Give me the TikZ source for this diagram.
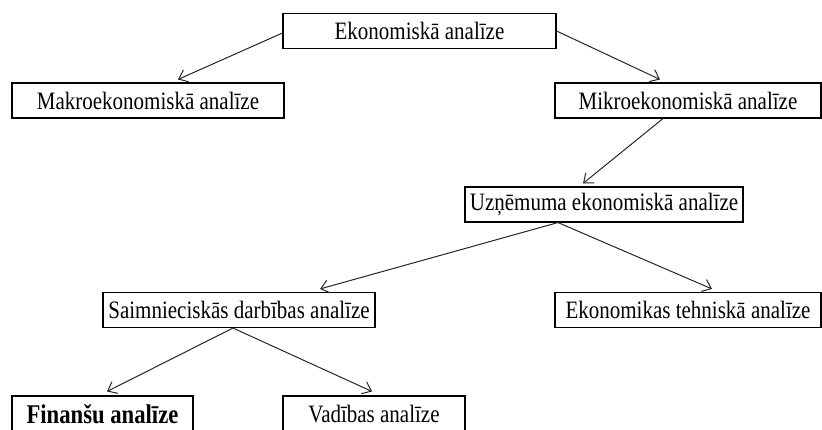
\documentclass[tikz,border=0pt]{standalone}
\usepackage{fontspec}
\setmainfont{Liberation Serif}[FakeStretch=0.84]
\usepackage{tikz}
\usetikzlibrary{arrows.meta}

\begin{document}
\begin{tikzpicture}[x=1pt, y=-1pt,
    box/.style={draw, rectangle, line width=1.1pt, minimum height=35pt, inner sep=0pt,
      font=\fontsize{25}{30}\selectfont},
    link/.style={->, line width=1pt, draw=black!85},
    >={Straight Barb[length=8pt, width=13pt]}]
  \path[use as bounding box, clip] (0,0) rectangle (822,429);

  \node[box, minimum width=273pt] (eko) at (419.5,31) {Ekonomiskā analīze};
  \node[box, minimum width=272pt] (makro) at (148,100.5) {Makroekonomiskā analīze};
  \node[box, minimum width=266pt] (mikro) at (688,100.5) {Mikroekonomiskā analīze};
  \node[box, minimum width=278pt] (uzn) at (604,204.5) {Uzņēmuma ekonomiskā analīze};
  \node[box, minimum width=272pt] (saimn) at (239,310) {Saimnieciskās darbības analīze};
  \node[box, minimum width=266pt] (tehn) at (688,310) {Ekonomikas tehniskā analīze};
  \node[box, minimum width=181pt, minimum height=36pt,
    font=\fontsize{27}{32}\selectfont\bfseries] (fin) at (102.5,414) {Finanšu analīze};
  \node[box, minimum width=182pt, minimum height=36pt] (vad) at (374,414) {Vadības analīze};

  \draw[link] ([yshift=-2pt]eko.west) -- ([xshift=30pt, yshift=3pt]makro.north);
  \draw[link] (eko.east) -- ([xshift=-28pt, yshift=3pt]mikro.north);
  \draw[link] ([xshift=-25pt]mikro.south) -- ([xshift=-21pt, yshift=3pt]uzn.north);
  \draw[link] ([xshift=-46pt]uzn.south) -- ([xshift=81pt, yshift=3pt]saimn.north);
  \draw[link] ([xshift=-46pt]uzn.south) -- ([xshift=24pt, yshift=3pt]tehn.north);
  \draw[link] ([xshift=-6pt]saimn.south) -- ([xshift=4.5pt, yshift=4pt]fin.north);
  \draw[link] ([xshift=-6pt]saimn.south) -- ([xshift=-2pt, yshift=4pt]vad.north);
\end{tikzpicture}
\end{document}
